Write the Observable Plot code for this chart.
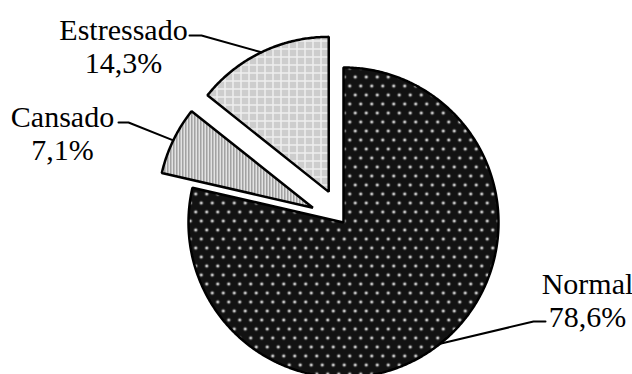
<!DOCTYPE html>
<html><head><meta charset="utf-8">
<script src="https://cdn.jsdelivr.net/npm/d3@7"></script>
<script src="https://cdn.jsdelivr.net/npm/@observablehq/plot@0.6"></script>
<style>body{margin:0;background:#fff} #chart{width:632px;height:374px}</style>
</head><body><div id="chart"></div>
<script>
// ---- data ----
const categories = ["Normal", "Cansado", "Estressado"];
const percents = [78.6, 7.1, 14.3];
const percentLabels = ["78,6%", "7,1%", "14,3%"];
const exploded = [false, true, true];
const patternIds = ["pNormal", "pCansado", "pEstressado"];

// ---- layout (pixels) ----
const W = 632, H = 374;
const R = 155, CX = 343, CY = 222, EXPLODE = 34;
const labelAnchor = {Normal: [587, 270], Cansado: [62, 103], Estressado: [123, 16]};
const leaderElbow = {Normal: [[533, 321], [545, 321]], Cansado: [[128, 122], [118, 122]], Estressado: [[201, 35], [189, 35]]};
const FS = 30;

const arcs = d3.pie().sort(null).value(d => d.value)(categories.map((c, i) => ({name: c, value: percents[i], i})));
const polys = [];
const leaders = [];
const labels = [];
for (const a of arcs) {
  const i = a.data.i, name = a.data.name;
  const mid = (a.startAngle + a.endAngle) / 2;
  const off = exploded[i] ? EXPLODE : 0;
  const cx = CX + Math.sin(mid) * off, cy = CY - Math.cos(mid) * off;
  const pt = (ang) => ({name, fill: `url(#${patternIds[i]})`, x: cx + Math.sin(ang) * R, y: cy - Math.cos(ang) * R});
  const n1 = Math.max(4, Math.ceil((a.endAngle - mid) / 0.01));
  for (let k = 0; k <= n1; k++) polys.push(pt(mid + (a.endAngle - mid) * k / n1));
  polys.push({name, fill: `url(#${patternIds[i]})`, x: cx, y: cy});
  for (let k = 0; k <= n1; k++) polys.push(pt(a.startAngle + (mid - a.startAngle) * k / n1));
  const ap = pt(mid);
  leaders.push({name, x: ap.x, y: ap.y});
  for (const [x, y] of leaderElbow[name]) leaders.push({name, x, y});
  labels.push({x: labelAnchor[name][0], y: labelAnchor[name][1], text: name + "\n" + percentLabels[i]});
}

const svg = Plot.plot({
  width: W, height: H, margin: 0,
  x: {domain: [0, W], range: [0, W], axis: null},
  y: {domain: [0, H], range: [0, H], axis: null},
  color: {type: "identity"},
  style: {background: "#fff"},
  marks: [
    Plot.line(polys, {x: "x", y: "y", z: "name", fill: "fill", stroke: "#000", strokeWidth: 2.5, strokeLinejoin: "miter", curve: "linear"}),
    Plot.line(leaders, {x: "x", y: "y", z: "name", stroke: "#000", strokeWidth: 2, curve: "linear"}),
    Plot.text(labels, {x: "x", y: "y", text: "text", lineAnchor: "top", lineHeight: 33 / FS, fontSize: FS, fontFamily: "Liberation Serif, Times New Roman, serif", fill: "#000", textAnchor: "middle"})
  ]
});

const ns = "http://www.w3.org/2000/svg";
const defs = document.createElementNS(ns, "defs");
let chk = "";
for (let yy = 0; yy < 8; yy++) for (let xx = 0; xx < 8; xx++) {
  const inCross = (xx === 0 || yy === 0);
  if (!inCross && (xx + yy) % 2 === 0) chk += `<rect x="${xx}" y="${yy}" width="1" height="1" fill="#b4b4b4"/>`;
  else if (!inCross) chk += `<rect x="${xx}" y="${yy}" width="1" height="1" fill="#e6e6e6"/>`;
}
defs.innerHTML = `
<pattern id="pNormal" patternUnits="userSpaceOnUse" width="11" height="18">
  <rect width="11" height="18" fill="#121212"/>
  <circle cx="2.75" cy="4.5" r="2" fill="#666"/><circle cx="2.75" cy="4.5" r="1.1" fill="#fff"/>
  <circle cx="8.25" cy="13.5" r="2" fill="#666"/><circle cx="8.25" cy="13.5" r="1.1" fill="#fff"/>
</pattern>
<pattern id="pCansado" patternUnits="userSpaceOnUse" width="3" height="3">
  <rect width="3" height="3" fill="#fff"/>
  <rect x="1" width="1" height="3" fill="#c4c4c4"/>
  <rect x="2" width="1" height="3" fill="#808080"/>
</pattern>
<pattern id="pEstressado" patternUnits="userSpaceOnUse" width="8" height="8">
  <rect width="8" height="8" fill="#fff"/>${chk}
</pattern>`;
svg.insertBefore(defs, svg.firstChild);
document.getElementById("chart").appendChild(svg);
</script>
</body></html>
